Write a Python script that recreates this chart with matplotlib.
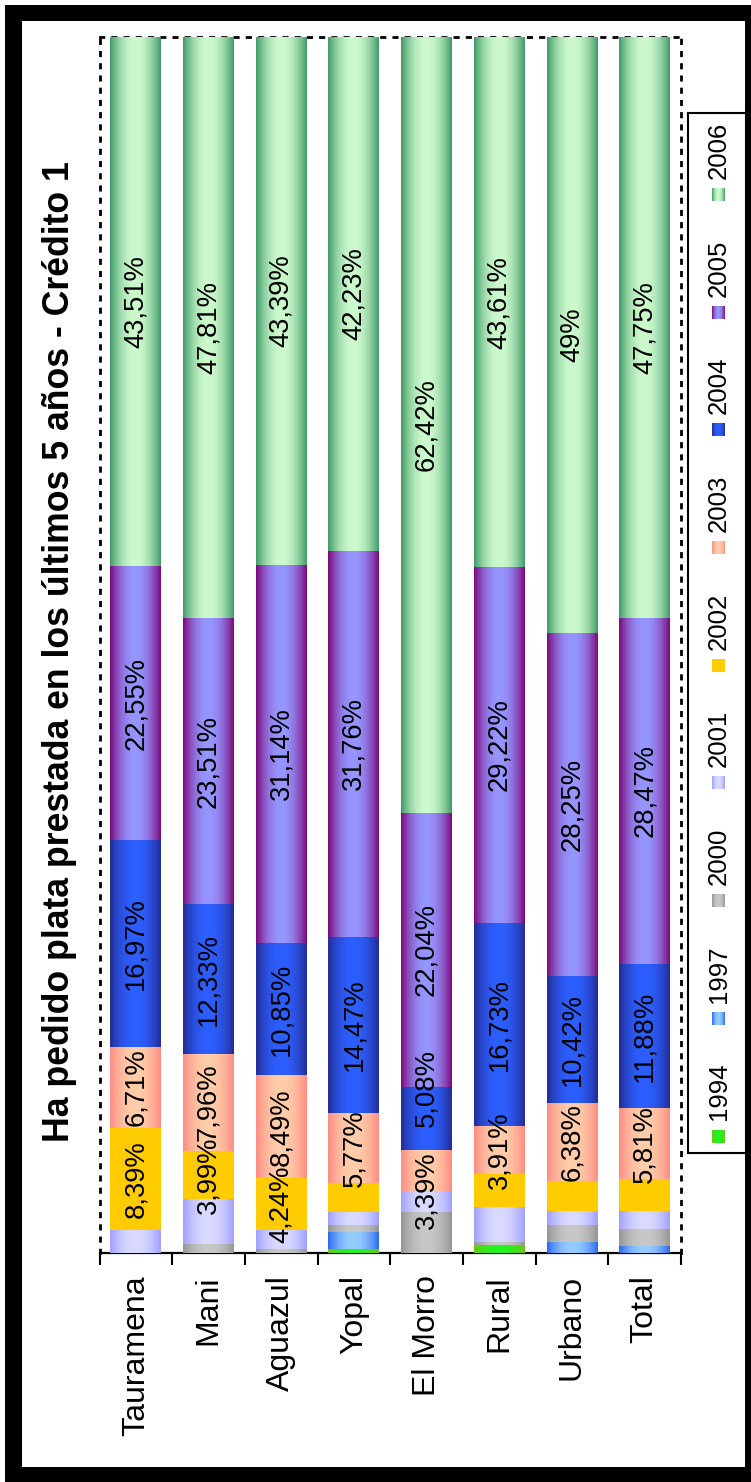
import numpy as np
import matplotlib
matplotlib.use("Agg")
import matplotlib.pyplot as plt
from matplotlib.patches import Rectangle

plt.rcParams['font.family'] = ['Liberation Sans', 'DejaVu Sans']

categories = ['Tauramena', 'Mani', 'Aguazul', 'Yopal', 'El Morro', 'Rural', 'Urbano', 'Total']
years = ['1994', '1997', '2000', '2001', '2002', '2003', '2004', '2005', '2006']

v1994 = [0, 0, 0, 0.30, 0, 0.68, 0, 0]
v1997 = [0, 0, 0, 1.40, 0, 0, 0.90, 0.59]
v2000 = [0, 0.70, 0.34, 0.60, 3.30, 0.20, 1.40, 1.35]
v2001 = [1.87, 3.70, 1.55, 1.10, 1.60, 2.90, 1.15, 1.55]
v2002 = [8.39, 3.99, 4.24, 2.37, 0, 2.75, 2.50, 2.60]
v2003 = [6.71, 7.96, 8.49, 5.77, 3.39, 3.91, 6.38, 5.81]
v2004 = [16.97, 12.33, 10.85, 14.47, 5.08, 16.73, 10.42, 11.88]
v2005 = [22.55, 23.51, 31.14, 31.76, 22.04, 29.22, 28.25, 28.47]
v2006 = [43.51, 47.81, 43.39, 42.23, 62.42, 43.61, 49.00, 47.75]

series = [v1994, v1997, v2000, v2001, v2002, v2003, v2004, v2005, v2006]

# (edge colour, centre colour) for the Excel-like gradient fills
grad_colors = [
    ((110, 195, 20), (30, 245, 30)),
    ((45, 105, 240), (150, 205, 255)),
    ((150, 150, 150), (200, 200, 200)),
    ((160, 160, 255), (218, 218, 255)),
    ((255, 204, 0), (255, 204, 0)),
    ((255, 140, 130), (255, 205, 170)),
    ((35, 45, 150), (45, 95, 255)),
    ((125, 10, 125), (150, 150, 255)),
    ((65, 155, 105), (205, 250, 205)),
]

# nudges (in % units) for labels that would collide, as placed in the original
label_nudge = {(4, 6): 2.5, (4, 5): -1.6}

W, H = 751, 1482
fig = plt.figure(figsize=(W / 100, H / 100), dpi=100)
fig.patch.set_facecolor('white')


def fx(px):
    return px / W


def fy(py):
    return 1 - py / H


def gradient(edge, centre, n=64, p=2.0):
    u = np.linspace(0, 1, n)
    t = np.abs(2 * u - 1) ** p
    e = np.array(edge) / 255.0
    c = np.array(centre) / 255.0
    img = c[None, :] + (e - c)[None, :] * t[:, None]
    return img[None, :, :]


# plot area
left, right, top, bottom = 99.5, 681, 37, 1253
ax = fig.add_axes([fx(left), fy(bottom), fx(right) - fx(left), fy(top) - fy(bottom)])

data = np.array(series, dtype=float)
totals = data.sum(axis=0)
norm = data / totals * 100.0
x = np.arange(len(categories)) + 0.5
bw = 0.70

base = np.zeros(len(categories))
for si, vals in enumerate(norm):
    edge, centre = grad_colors[si]
    img = gradient(edge, centre)
    bars = ax.bar(x, vals, bw, bottom=base, color=np.array(centre) / 255.0,
                  linewidth=0, zorder=2)
    for bi, rect in enumerate(bars):
        if vals[bi] <= 0:
            continue
        x0, y0 = rect.get_x(), rect.get_y()
        im = ax.imshow(img, extent=[x0, x0 + rect.get_width(), y0, y0 + rect.get_height()],
                       aspect='auto', interpolation='bilinear', zorder=3)
        im.set_clip_path(rect)
        raw = series[si][bi]
        if si >= 4 and raw >= 3.3:
            txt = f"{round(raw, 2):g}".replace('.', ',') + '%'
            yc = y0 + rect.get_height() / 2 + label_nudge.get((bi, si), 0.0)
            ax.text(x[bi], yc, txt, rotation=90,
                    ha='center', va='center', fontsize=19.7, color='black', zorder=5)
    base = base + vals

ax.set_xlim(0, len(categories))
ax.set_ylim(0, 100)
ax.set_yticks([])
ax.set_xticks(np.arange(len(categories) + 1))
ax.set_xticklabels([])
ax.set_xticks(x, minor=True)
ax.set_xticklabels(categories, minor=True, rotation=90, fontsize=23)
ax.tick_params(axis='x', which='major', direction='out', length=8.6, width=1.5, color='black')
ax.tick_params(axis='x', which='minor', length=0, pad=16)

for side in ['top', 'left', 'right']:
    ax.spines[side].set_linestyle((0, (1.2, 3.2)))
    ax.spines[side].set_linewidth(2.0)
    ax.spines[side].set_color('black')
ax.spines['bottom'].set_linewidth(1.6)
ax.spines['bottom'].set_color('black')
ax.set_facecolor('white')

# title
fig.text(fx(60), fy(652), 'Ha pedido plata prestada en los últimos 5 años - Crédito 1',
         rotation=90, ha='center', va='center', fontsize=25.7, fontweight='bold')

# legend (drawn manually, rotated)
lg_l, lg_r, lg_t, lg_b = 688, 746, 113, 1153
fig.add_artist(Rectangle((fx(lg_l), fy(lg_b)), fx(lg_r) - fx(lg_l), fy(lg_t) - fy(lg_b),
                         transform=fig.transFigure, facecolor='white', edgecolor='black',
                         linewidth=1.5, zorder=4))
sw = 13
step = 117.7
for i, yr in enumerate(years):
    ys = 1136 - i * step
    xc = 718
    sax = fig.add_axes([fx(xc - sw / 2), fy(ys + sw / 2), sw / W, sw / H], zorder=6)
    edge, centre = grad_colors[i]
    sax.imshow(gradient(edge, centre, p=2.0), aspect='auto', interpolation='bilinear')
    sax.set_axis_off()
    fig.text(fx(xc + 1), fy(ys - sw / 2 - 9), yr, rotation=90, ha='center', va='bottom',
             fontsize=18.5, zorder=6)

# thick black frame
frame = [
    (5, 5, 17, H - 5),      # left
    (5, 5, W - 5, 16),      # top
    (745, 5, 6, H - 5),     # right
    (5, 1467, W - 5, 15),   # bottom
]
for (px, py, pw, ph) in frame:
    fig.add_artist(Rectangle((fx(px), fy(py + ph)), pw / W, ph / H, transform=fig.transFigure,
                             facecolor='black', edgecolor='none', zorder=10))

fig.savefig('out.png', dpi=100, facecolor='white')
